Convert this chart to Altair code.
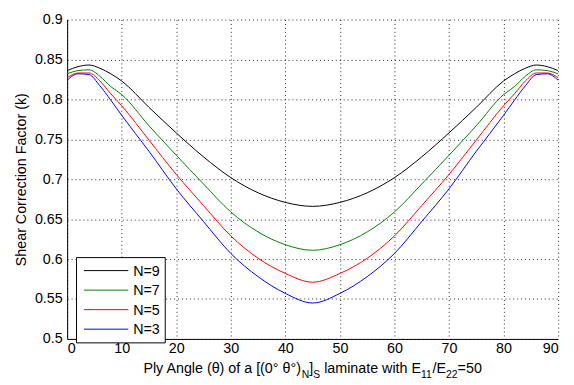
import altair as alt
import pandas as pd

# ---- data ----
angle = [0, 2, 4, 6, 8, 10, 15, 20, 25, 30, 35, 40, 45, 50, 55, 60, 65, 70, 75, 80, 82, 84, 86, 88, 90]
k_n9 = [0.836, 0.841, 0.843, 0.839, 0.832, 0.823, 0.790, 0.758, 0.728, 0.702, 0.683, 0.671, 0.666,
        0.671, 0.683, 0.702, 0.728, 0.758, 0.790, 0.823, 0.832, 0.839, 0.843, 0.841, 0.836]
k_n7 = [0.832, 0.836, 0.837, 0.829, 0.816, 0.806, 0.767, 0.730, 0.694, 0.659, 0.634, 0.618, 0.611,
        0.618, 0.634, 0.659, 0.694, 0.730, 0.767, 0.806, 0.816, 0.829, 0.837, 0.836, 0.832]
k_n5 = [0.827, 0.833, 0.833, 0.823, 0.807, 0.792, 0.749, 0.706, 0.667, 0.629, 0.601, 0.582, 0.571,
        0.582, 0.601, 0.629, 0.667, 0.706, 0.749, 0.792, 0.807, 0.823, 0.833, 0.833, 0.827]
k_n3 = [0.824, 0.832, 0.831, 0.817, 0.799, 0.780, 0.735, 0.688, 0.647, 0.607, 0.578, 0.557, 0.545,
        0.557, 0.578, 0.607, 0.647, 0.688, 0.735, 0.780, 0.799, 0.817, 0.831, 0.832, 0.824]
series = ["N=9", "N=7", "N=5", "N=3"]
colors = ["#000000", "#008000", "#ff0000", "#0000ff"]
x_ticks = [0, 10, 20, 30, 40, 50, 60, 70, 80, 90]
y_ticks = [0.5, 0.55, 0.6, 0.65, 0.7, 0.75, 0.8, 0.85, 0.9]
y_title = "Shear Correction Factor (k)"
# x title pieces: (text, is_subscript, leading space)
x_title_parts = [("Ply Angle (θ) of a [(0° θ°)", False, False), ("N", True, False),
                 ("]", False, False), ("S", True, False), ("laminate with E", False, True),
                 ("11", True, False), ("/E", False, False), ("22", True, False),
                 ("=50", False, False)]

rows = []
for name, vals in zip(series, [k_n9, k_n7, k_n5, k_n3]):
    for a, v in zip(angle, vals):
        rows.append({"angle": a, "k": v, "series": name})
df = pd.DataFrame(rows)

W, H = 498, 324
FONT = "Liberation Sans"
FS = 14.5
SUB_FS = 10.5

one = pd.DataFrame({"d": [0]})

lines = alt.Chart(df).mark_line(strokeWidth=1, interpolate="monotone", clip=True).encode(
    x=alt.X("angle:Q", scale=alt.Scale(domain=[0, 90], nice=False, zero=False),
            axis=alt.Axis(values=x_ticks, title=None, labelPadding=3)),
    y=alt.Y("k:Q", scale=alt.Scale(domain=[0.5, 0.9], nice=False, zero=False),
            axis=alt.Axis(values=y_ticks, format="~g", title=y_title, labelPadding=5,
                          titlePadding=6)),
    color=alt.Color("series:N", scale=alt.Scale(domain=series, range=colors), legend=None),
    order=alt.Order("angle:Q"),
)

layers = [lines]

# legend box
layers.append(alt.Chart(one).mark_rect(fill="white", stroke="black", strokeWidth=1).encode(
    x=alt.value(9.5), x2=alt.value(99.5), y=alt.value(241.5), y2=alt.value(328)))
for i, (name, col) in enumerate(zip(series, colors)):
    yy = 254.7 + 19.8 * i
    layers.append(alt.Chart(one).mark_rule(color=col, strokeWidth=1).encode(
        x=alt.value(17), x2=alt.value(62), y=alt.value(yy)))
    layers.append(alt.Chart(one).mark_text(align="left", baseline="middle", font=FONT,
                                           fontSize=FS, color="black").encode(
        x=alt.value(67), y=alt.value(yy + 1), text=alt.value(name)))

# x title with subscripts
arial = {"P": 667, "l": 222, "y": 500, " ": 278, "A": 667, "n": 556, "g": 556, "e": 556,
         "(": 333, ")": 333, "θ": 556, "o": 556, "f": 278, "a": 556, "[": 278, "]": 278, "0": 556,
         "°": 400, "N": 722, "S": 667, "m": 833, "i": 222, "t": 278, "w": 722, "h": 556, "E": 667,
         "1": 556, "/": 278, "2": 556, "=": 584, "5": 556}


def tw(s, fs):
    return sum(arial.get(c, 556) for c in s) / 1000.0 * fs


SPACE = 0.278 * FS
total = sum(tw(t, SUB_FS if s else FS) + (SPACE if sp else 0) for t, s, sp in x_title_parts)
xpos = W / 2 - total / 2
base_y = 358.7
for t, s, sp in x_title_parts:
    fs = SUB_FS if s else FS
    if sp:
        xpos += SPACE
    layers.append(alt.Chart(one).mark_text(align="left", baseline="alphabetic", font=FONT,
                                           fontSize=fs, color="black").encode(
        x=alt.value(xpos), y=alt.value(base_y + (5 if s else 0)), text=alt.value(t)))
    xpos += tw(t, fs)

chart = alt.layer(*layers).properties(
    width=W, height=H,
    autosize=alt.AutoSizeParams(type="none"),
    padding={"left": 60, "top": 9, "right": 8, "bottom": 40},
).configure_view(stroke=None).configure_axis(
    labelFont=FONT, labelFontSize=FS, labelColor="black",
    titleFont=FONT, titleFontSize=FS, titleFontWeight="normal", titleColor="black",
    domainColor="black", domainWidth=1, ticks=False,
    grid=True, gridColor="black", gridDash=[1, 3], gridWidth=1, gridOpacity=0.85,
)

chart.save("out.html", embed_options={"renderer": "svg", "actions": False})
